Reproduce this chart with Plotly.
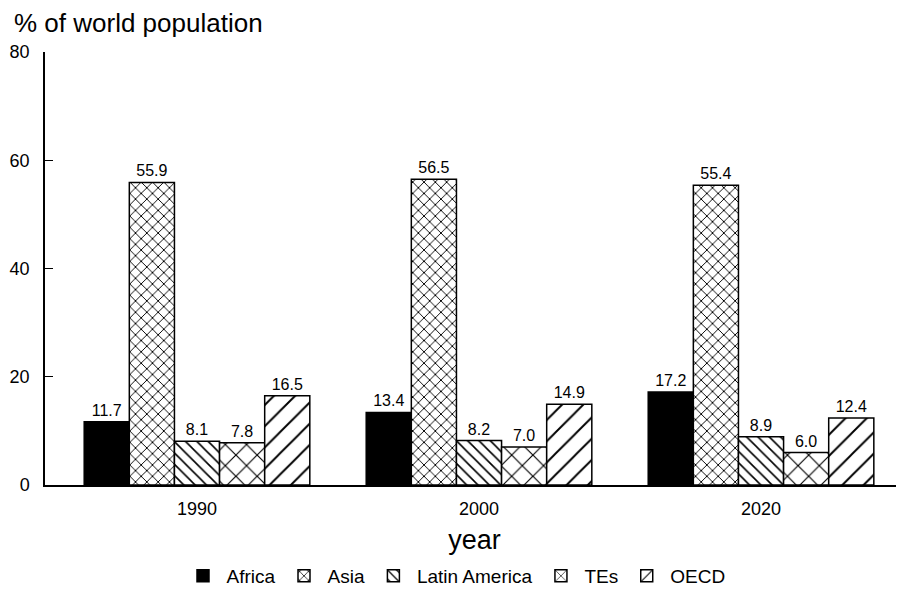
import plotly.graph_objects as go

years = ["1990", "2000", "2020"]
x_pos = [0, 1, 2]
regions = ["Africa", "Asia", "Latin America", "TEs", "OECD"]
africa = [11.7, 13.4, 17.2]
asia = [55.9, 56.5, 55.4]
latin_america = [8.1, 8.2, 8.9]
tes = [7.8, 7.0, 6.0]
oecd = [16.5, 14.9, 12.4]
y_ticks = [0, 20, 40, 60, 80]

series = [africa, asia, latin_america, tes, oecd]
patterns = [
    dict(shape=""),
    dict(shape="x", size=8, solidity=0.22, fgcolor="black", bgcolor="white", fgopacity=1),
    dict(shape="\\", size=8, solidity=0.2, fgcolor="black", bgcolor="white", fgopacity=1),
    dict(shape="x", size=15, solidity=0.15, fgcolor="black", bgcolor="white", fgopacity=1),
    dict(shape="/", size=15, solidity=0.13, fgcolor="black", bgcolor="white", fgopacity=1),
]
colors = ["black", "white", "white", "white", "white"]

W, H = 896, 587
L, R, T, B = 37, 0, 44, 106
PW, PH = W - L - R, H - T - B

fig = go.Figure()
for name, vals, pat, col in zip(regions, series, patterns, colors):
    fig.add_trace(go.Bar(
        name=name, x=x_pos, y=vals,
        marker=dict(color=col, line=dict(color="black", width=1.5), pattern=pat),
        text=[f"{v:.1f}" for v in vals], textposition="outside",
        textfont=dict(size=16, color="black"), cliponaxis=False,
    ))

fig.update_layout(
    width=W, height=H,
    margin=dict(l=L, r=R, t=T, b=B),
    paper_bgcolor="white", plot_bgcolor="white",
    font=dict(family="Liberation Sans, Arial, sans-serif", color="black", size=18),
    barmode="group", bargap=0.2, bargroupgap=0,
    showlegend=True,
    legend=dict(orientation="h", x=(455 - 8 - L) / PW, xanchor="center",
                y=-(573 - 481) / PH, yanchor="middle",
                font=dict(size=19), itemwidth=37, tracegroupgap=0),
    xaxis=dict(range=[-0.539, 2.507], tickvals=x_pos, ticktext=years,
               showline=True, linecolor="black", linewidth=1.5, ticks="",
               showgrid=False, zeroline=False, tickfont=dict(size=18),
               ticklabelstandoff=7, automargin=False,
               title=dict(text="year", font=dict(size=27), standoff=12)),
    yaxis=dict(range=[0, 80], tickvals=y_ticks, showline=True, linecolor="black",
               linewidth=1.5, ticks="inside", ticklen=8, tickcolor="black",
               showgrid=False, zeroline=False, tickfont=dict(size=18),
               ticklabelstandoff=10, automargin=False),
    annotations=[dict(text="% of world population", xref="paper", yref="paper",
                      x=(12 - 8 - L) / PW, y=1 + 29 / PH, xanchor="left", yanchor="middle",
                      showarrow=False, font=dict(size=26))],
)

fig.write_html("out.html")
